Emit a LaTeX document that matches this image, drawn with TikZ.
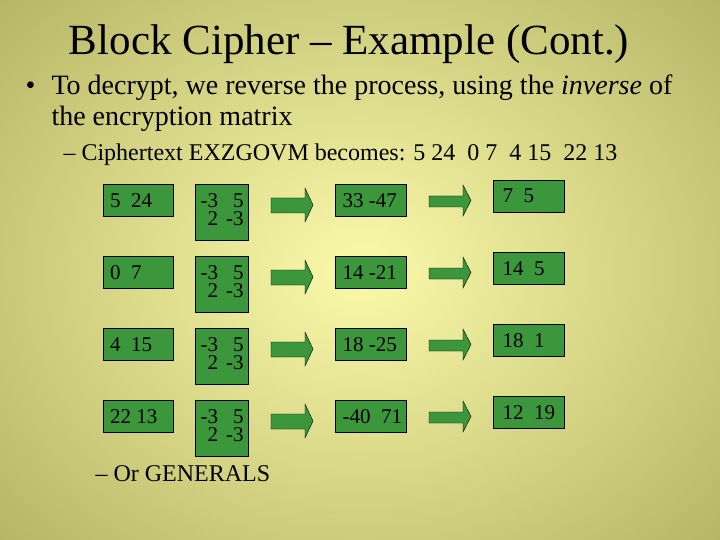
\documentclass[tikz,border=0pt]{standalone}
\usepackage{fontspec}
\setmainfont{Liberation Serif}
\definecolor{bin}{RGB}{250,250,170}
\definecolor{bout}{RGB}{180,180,100}
\definecolor{gbox}{RGB}{60,150,60}
\begin{document}
\begin{tikzpicture}[x=1pt,y=-1pt,
  gb/.style={draw=black,fill=gbox,inner sep=0pt,anchor=north west,font=\fontsize{21}{21}\selectfont},
  arr/.style={draw=black,fill=gbox}]
\useasboundingbox (0,0) rectangle (720,540);
\shade[inner color=bin,outer color=bout] (-140,-140) rectangle (860,680);
\node[font=\fontsize{43}{43}\selectfont,anchor=center] (title) at (349,44) {Block Cipher – Example (Cont.)};
\node[font=\fontsize{28}{31}\selectfont,anchor=north west,align=left] (b1) at (22,71)
 {\makebox[26pt][l]{•}To decrypt, we reverse the process, using the \textit{inverse} of\\\hspace*{26pt}the encryption matrix};
\node[font=\fontsize{24}{24}\selectfont,anchor=north west] (b2) at (60,140) {– Ciphertext EXZGOVM becomes: 5 24\ \ 0 7\ \ 4 15\ \ 22 13};
\foreach \i/\a/\c/\d in {0/{5\ \ 24}/{33 -47}/{7\ \ 5},1/{0\ \ 7}/{14 -21}/{14\ \ 5},2/{4\ \ 15}/{18 -25}/{18\ \ 1},3/{22 13}/{-40\ \ 71}/{12\ \ 19}}{
  \pgfmathsetmacro\yy{184+72*\i}
  \node[gb,minimum width=70pt,minimum height=32pt] (a\i) at (103,\yy) {\makebox[64pt][l]{\hspace{4pt}\a}};
  \node[gb,minimum width=53pt,minimum height=56pt] (m\i) at (195,\yy) {\makebox[50pt][l]{\hspace{4pt}\begin{tabular}{@{}r@{\hspace{8pt}}r@{}}-3&5\\[-3pt] 2&-3\end{tabular}}};
  \draw[arr] (271,\yy+14) -- (305,\yy+14) -- (305,\yy+4) -- (313,\yy+21) -- (305,\yy+38) -- (305,\yy+29) -- (271,\yy+29) -- cycle;
  \node[gb,minimum width=71pt,minimum height=32pt] (c\i) at (335,\yy) {\makebox[64pt][l]{\hspace{4pt}\c}};
  \draw[arr] (429,\yy+12) -- (463,\yy+12) -- (463,\yy+1) -- (471,\yy+16.5) -- (463,\yy+32) -- (463,\yy+23) -- (429,\yy+23) -- cycle;
  \node[gb,minimum width=71pt,minimum height=32pt] (d\i) at (493,\yy-4) {\makebox[64pt][l]{\hspace{6pt}\d}};
}
\node[font=\fontsize{24}{24}\selectfont,anchor=north west] (b3) at (92,462) {– Or GENERALS};
\end{tikzpicture}
\end{document}
